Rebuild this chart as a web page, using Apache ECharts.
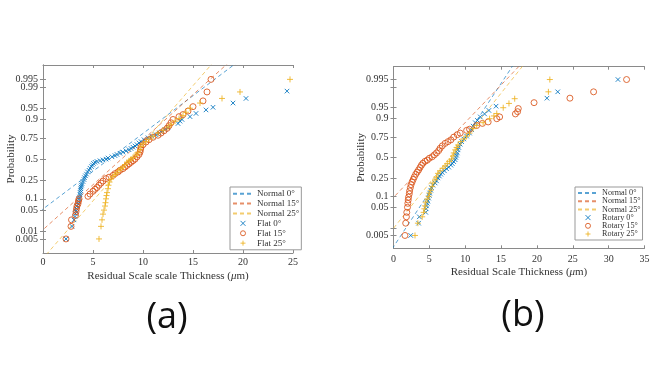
<!DOCTYPE html>
<html><head><meta charset="utf-8">
<script src="https://cdn.jsdelivr.net/npm/echarts@6/dist/echarts.min.js"></script>
<style>html,body{margin:0;padding:0;background:#fff}#c{width:660px;height:370px}</style>
</head><body><div id="c"></div>
<script>
// ---------- data (x = residual scale thickness in µm, p = probability) ----------
const probTicksA = [0.005, 0.01, 0.05, 0.1, 0.25, 0.5, 0.75, 0.9, 0.95, 0.99, 0.995];
const probLabelsA1 = [0.005, 0.05, 0.1, 0.25, 0.5, 0.75, 0.9, 0.95, 0.995];
const probLabelsA2 = [0.01, 0.99];
const probLabelsB = [0.005, 0.05, 0.1, 0.25, 0.5, 0.75, 0.9, 0.95, 0.995];
const probTicksB = [0.005, 0.01, 0.05, 0.1, 0.25, 0.5, 0.75, 0.9, 0.95, 0.99, 0.995];

const namesA = ['Normal 0°', 'Normal 15°', 'Normal 25°', 'Flat 0°', 'Flat 15°', 'Flat 25°'];
const namesB = ['Normal 0°', 'Normal 15°', 'Normal 25°', 'Rotary 0°', 'Rotary 15°', 'Rotary 25°'];

// fitted normal distributions (mean, std) for the dashed reference lines
const fitMuA = [6.6, 7.84, 8.62];
const fitSigmaA = [4.1, 3.44, 2.69];
const fitMuB = [8.2, 5.33, 7.86];
const fitSigmaB = [2.78, 4.04, 3.36];

const flat0 = [[2.3,0.005],[2.9,0.015],[3.1,0.025],[3.2,0.032],[3.25,0.04],[3.3,0.047],[3.35,0.055],[3.4,0.065],[3.5,0.075],[3.55,0.085],[3.6,0.1],[3.65,0.11],[3.7,0.125],[3.72,0.14],[3.75,0.155],[3.78,0.17],[3.8,0.185],[3.85,0.2],[3.9,0.215],[4.0,0.235],[4.1,0.255],[4.15,0.275],[4.25,0.295],[4.35,0.315],[4.45,0.34],[4.6,0.36],[4.7,0.385],[4.85,0.405],[4.95,0.425],[5.05,0.445],[5.2,0.46],[5.4,0.47],[5.7,0.48],[6.0,0.49],[6.3,0.5],[6.5,0.515],[6.9,0.53],[7.2,0.545],[7.4,0.56],[7.7,0.575],[8.0,0.59],[8.3,0.605],[8.6,0.62],[8.8,0.635],[9.0,0.65],[9.2,0.665],[9.4,0.68],[9.6,0.7],[9.8,0.715],[10.1,0.735],[10.5,0.755],[10.9,0.77],[11.3,0.785],[11.6,0.8],[11.9,0.815],[12.2,0.83],[12.5,0.845],[13.5,0.875],[13.7,0.89],[13.9,0.9],[14.7,0.915],[15.3,0.93],[16.3,0.944],[17.0,0.953],[19.0,0.965],[20.3,0.975],[24.4,0.986]];
const flat15 = [[2.3,0.005],[2.8,0.015],[2.85,0.025],[3.25,0.035],[3.3,0.045],[3.35,0.055],[3.4,0.065],[3.5,0.075],[3.55,0.088],[3.6,0.1],[4.5,0.115],[4.7,0.13],[5.0,0.15],[5.2,0.165],[5.4,0.18],[5.6,0.2],[5.8,0.22],[6.0,0.24],[6.3,0.265],[6.6,0.28],[7.0,0.3],[7.2,0.32],[7.5,0.34],[7.7,0.36],[8.0,0.38],[8.2,0.4],[8.4,0.42],[8.6,0.44],[8.8,0.46],[9.0,0.48],[9.2,0.5],[9.4,0.53],[9.6,0.56],[9.7,0.59],[9.75,0.62],[9.8,0.65],[10.0,0.68],[10.3,0.71],[10.6,0.735],[11.0,0.76],[11.5,0.78],[11.8,0.8],[12.1,0.82],[12.4,0.84],[12.6,0.86],[12.8,0.88],[13.0,0.9],[13.6,0.915],[14.0,0.925],[14.5,0.94],[15.0,0.955],[16.0,0.97],[16.4,0.985],[16.8,0.995]];
const flat25 = [[5.6,0.005],[5.8,0.015],[5.9,0.025],[6.0,0.038],[6.1,0.05],[6.2,0.065],[6.25,0.08],[6.3,0.1],[6.35,0.12],[6.4,0.14],[6.5,0.17],[6.55,0.2],[6.65,0.23],[6.8,0.26],[7.0,0.29],[7.2,0.31],[7.4,0.33],[7.6,0.36],[7.8,0.38],[8.0,0.4],[8.2,0.43],[8.4,0.46],[8.6,0.48],[8.8,0.5],[9.0,0.52],[9.3,0.55],[9.5,0.58],[9.7,0.62],[9.8,0.66],[10.0,0.69],[10.3,0.715],[10.6,0.74],[11.0,0.77],[11.5,0.8],[12.0,0.825],[12.5,0.85],[12.8,0.87],[13.2,0.89],[13.6,0.905],[14.0,0.92],[14.3,0.935],[14.7,0.95],[15.7,0.965],[17.9,0.975],[19.7,0.985],[24.7,0.995]];

const rotary0 = [[2.4,0.005],[3.5,0.015],[3.6,0.025],[4.5,0.035],[4.55,0.045],[4.6,0.055],[4.7,0.065],[4.8,0.075],[4.9,0.09],[5.0,0.105],[5.05,0.12],[5.2,0.14],[5.3,0.16],[5.5,0.18],[5.8,0.2],[6.0,0.22],[6.2,0.25],[6.4,0.27],[6.6,0.29],[6.8,0.31],[7.1,0.33],[7.4,0.355],[7.7,0.375],[8.0,0.4],[8.2,0.42],[8.4,0.445],[8.6,0.47],[8.7,0.5],[8.8,0.53],[8.9,0.56],[9.0,0.6],[9.1,0.63],[9.3,0.67],[9.5,0.7],[9.8,0.73],[10.2,0.76],[10.6,0.79],[10.9,0.82],[11.1,0.85],[11.4,0.875],[11.7,0.89],[12.1,0.91],[12.7,0.925],[13.3,0.94],[14.3,0.955],[21.4,0.975],[22.9,0.985],[31.3,0.995]];
const rotary15 = [[1.6,0.005],[1.7,0.015],[1.8,0.025],[1.85,0.035],[1.95,0.05],[2.0,0.065],[2.05,0.08],[2.1,0.095],[2.2,0.115],[2.25,0.135],[2.35,0.16],[2.45,0.185],[2.6,0.21],[2.75,0.235],[2.9,0.26],[3.1,0.29],[3.3,0.315],[3.5,0.34],[3.7,0.37],[3.9,0.4],[4.1,0.425],[4.4,0.45],[4.7,0.465],[5.0,0.49],[5.4,0.51],[5.7,0.535],[6.0,0.56],[6.3,0.59],[6.5,0.62],[6.8,0.65],[7.2,0.68],[7.6,0.7],[8.0,0.72],[8.4,0.75],[8.9,0.775],[9.3,0.79],[10.2,0.815],[10.6,0.825],[11.6,0.855],[12.4,0.87],[13.2,0.88],[14.4,0.9],[14.8,0.91],[17.0,0.925],[17.3,0.935],[17.4,0.947],[19.6,0.965],[24.6,0.975],[27.9,0.985],[32.5,0.995]];
const rotary25 = [[3.0,0.005],[3.4,0.015],[4.0,0.025],[4.2,0.035],[4.3,0.045],[4.4,0.055],[4.5,0.07],[4.7,0.085],[4.9,0.1],[5.0,0.12],[5.2,0.14],[5.4,0.17],[5.5,0.2],[5.8,0.23],[6.0,0.26],[6.2,0.3],[6.5,0.33],[6.9,0.36],[7.2,0.39],[7.5,0.42],[7.8,0.45],[8.1,0.48],[8.3,0.52],[8.4,0.56],[8.6,0.6],[8.8,0.63],[9.0,0.66],[9.4,0.7],[9.8,0.73],[10.2,0.76],[10.6,0.79],[11.1,0.83],[11.6,0.855],[12.5,0.875],[13.4,0.9],[14.0,0.915],[14.4,0.927],[15.3,0.95],[16.1,0.963],[16.9,0.974],[21.6,0.985],[21.8,0.995]];

// ---------- helpers ----------
function probit(p) { // inverse standard normal CDF (Acklam)
  const a=[-3.969683028665376e+01,2.209460984245205e+02,-2.759285104469687e+02,1.383577518672690e+02,-3.066479806614716e+01,2.506628277459239e+00];
  const b=[-5.447609879822406e+01,1.615858368580409e+02,-1.556989798598866e+02,6.680131188771972e+01,-1.328068155288572e+01];
  const c=[-7.784894002430293e-03,-3.223964580411365e-01,-2.400758277161838e+00,-2.549732539343734e+00,4.374664141464968e+00,2.938163982698783e+00];
  const d=[7.784695709041462e-03,3.224671290700398e-01,2.445134137142996e+00,3.754408661907416e+00];
  const pl=0.02425, ph=1-pl; let q,r;
  if (p<pl){q=Math.sqrt(-2*Math.log(p));return (((((c[0]*q+c[1])*q+c[2])*q+c[3])*q+c[4])*q+c[5])/((((d[0]*q+d[1])*q+d[2])*q+d[3])*q+1);}
  if (p<=ph){q=p-0.5;r=q*q;return (((((a[0]*r+a[1])*r+a[2])*r+a[3])*r+a[4])*r+a[5])*q/(((((b[0]*r+b[1])*r+b[2])*r+b[3])*r+b[4])*r+1);}
  q=Math.sqrt(-2*Math.log(1-p));return -(((((c[0]*q+c[1])*q+c[2])*q+c[3])*q+c[4])*q+c[5])/((((d[0]*q+d[1])*q+d[2])*q+d[3])*q+1);
}
const toPlot = arr => arr.map(d => [d[0], probit(d[1])]);
const fitLine = (mu, s) => [[mu - 3.6 * s, -3.6], [mu + 3.6 * s, 3.6]];
const labelFor = list => v => { for (const p of list) if (Math.abs(probit(p) - v) < 1e-6) return String(p); return ''; };

const COL = ['#0072BD', '#D95319', '#EDB120'];
const FONT = 'Liberation Serif';
const X_PATH = 'path://M0,0L10,10M10,0L0,10';
const PLUS_PATH = 'path://M5,0L5,10M0,5L10,5';
const AXC = '#8a8a8a';
const LBL = { fontFamily: FONT, fontSize: 10, color: '#333', margin: 5, hideOverlap: false, showMinLabel: true, showMaxLabel: true };

function yAxes(grid, ticks, labels, extraLabels, min, max, gap) {
  const axes = [{
    gridIndex: grid, type: 'value', min: min, max: max, position: 'left', offset: 0,
    axisLine: { show: true, lineStyle: { color: AXC, width: 1 } },
    axisTick: { show: true, inside: true, length: 3, customValues: ticks.map(probit), lineStyle: { color: AXC } },
    axisLabel: Object.assign({ customValues: labels.map(probit), formatter: labelFor(labels) }, LBL),
    splitLine: { show: false },
    name: 'Probability', nameLocation: 'middle', nameGap: gap, nameRotate: 90, nameMoveOverlap: false,
    nameTextStyle: { fontFamily: FONT, fontSize: 11, color: '#333' }
  }, {
    gridIndex: grid, type: 'value', min: min, max: max, position: 'right', offset: 0,
    axisLine: { show: true, lineStyle: { color: AXC, width: 1 } },
    axisTick: { show: true, inside: true, length: 3, customValues: ticks.map(probit), lineStyle: { color: AXC } },
    axisLabel: { show: false }, splitLine: { show: false }
  }];
  if (extraLabels.length) {
    axes.push({
      gridIndex: grid, type: 'value', min: min, max: max, position: 'left', offset: 0,
      axisLine: { show: false }, axisTick: { show: false }, splitLine: { show: false },
      axisLabel: Object.assign({ customValues: extraLabels.map(probit), formatter: labelFor(extraLabels) }, LBL)
    });
  }
  return axes;
}
function xAxes(grid, max, name, gap, margin) {
  return [{
    gridIndex: grid, type: 'value', min: 0, max: max, interval: 5, position: 'bottom',
    axisLine: { show: true, onZero: false, lineStyle: { color: AXC, width: 1 } },
    axisTick: { show: true, inside: true, length: 3, lineStyle: { color: AXC } },
    axisLabel: { fontFamily: FONT, fontSize: 10, color: '#333', margin: margin },
    splitLine: { show: false },
    name: name, nameLocation: 'middle', nameGap: gap, nameMoveOverlap: false,
    nameTextStyle: { fontFamily: FONT, fontSize: 11, color: '#333',
      rich: { i: { fontFamily: FONT, fontSize: 11, fontStyle: 'italic', color: '#333' } } }
  }, {
    gridIndex: grid, type: 'value', min: 0, max: max, interval: 5, position: 'top',
    axisLine: { show: true, onZero: false, lineStyle: { color: AXC, width: 1 } },
    axisTick: { show: true, inside: true, length: 3, lineStyle: { color: AXC } },
    axisLabel: { show: false }, splitLine: { show: false }
  }];
}

function panelSeries(xi, yi, names, mus, sigmas, sets) {
  const out = [];
  for (let k = 0; k < 3; k++) {
    out.push({
      name: names[k], type: 'line', xAxisIndex: xi, yAxisIndex: yi,
      data: fitLine(mus[k], sigmas[k]), symbol: 'none', clip: true, silent: true,
      lineStyle: { color: COL[k], width: 1, type: [4, 3], opacity: 0.65 },
      itemStyle: { color: COL[k] }, z: 2
    });
  }
  const syms = [X_PATH, 'circle', PLUS_PATH];
  const sizes = [4.5, 6, 6];
  for (let k = 0; k < 3; k++) {
    out.push({
      name: names[k + 3], type: 'scatter', xAxisIndex: xi, yAxisIndex: yi,
      data: toPlot(sets[k]), symbol: syms[k], symbolSize: sizes[k], clip: true,
      itemStyle: { color: 'rgba(0,0,0,0)', borderColor: COL[k], borderWidth: 1, opacity: 0.85 }, z: 3
    });
  }
  return out;
}

function legend(left, top, names, fs, gap, lh) {
  const syms = [X_PATH, 'circle', PLUS_PATH];
  const data = names.map((n, i) => i < 3
    ? { name: n, itemStyle: { opacity: 0 } }
    : { name: n, icon: syms[i - 3], itemStyle: { color: 'rgba(0,0,0,0)', borderColor: COL[i - 3], borderWidth: 1 } });
  return {
    left: left, top: top, orient: 'vertical', data: data,
    itemWidth: 20, itemHeight: 5, itemGap: gap, padding: [2, 2, 2, 2],
    backgroundColor: '#fff', borderColor: '#999', borderWidth: 1, borderRadius: 0,
    textStyle: { fontFamily: FONT, fontSize: fs, color: '#333', lineHeight: lh, padding: [0, 0, 0, -1] },
    selectedMode: false, z: 10
  };
}

const chart = echarts.init(document.getElementById('c'), null, { renderer: 'canvas' });
chart.setOption({
  animation: false,
  backgroundColor: '#fff',
  grid: [
    { left: 43, top: 65, width: 250, height: 188 },
    { left: 393.5, top: 66.7, width: 251, height: 181.6 }
  ],
  xAxis: [].concat(
    xAxes(0, 25, 'Residual Scale scale Thickness ({i|μ}m)', 18, 4),
    xAxes(1, 35, 'Residual Scale Thickness ({i|μ}m)', 18, 6)
  ),
  yAxis: [].concat(
    yAxes(0, probTicksA, probLabelsA1, probLabelsA2, -3.03, 3.04, 26),
    yAxes(1, probTicksB, probLabelsB, [], -3.0, 3.0, 27)
  ),
  legend: [legend(230, 187, namesA, 9, 0.6, 9.3), legend(575, 187, namesB, 8.2, 0.2, 7.8)],
  series: [].concat(
    panelSeries(0, 0, namesA, fitMuA, fitSigmaA, [flat0, flat15, flat25]),
    panelSeries(3, 3, namesB, fitMuB, fitSigmaB, [rotary0, rotary15, rotary25])
  ),
  graphic: [
    { type: 'text', x: 167, y: 318, style: { text: '(a)', font: '36px "Open Sans"', fill: '#111', align: 'center', verticalAlign: 'middle', textAlign: 'center', textVerticalAlign: 'middle' } },
    { type: 'text', x: 523, y: 316, style: { text: '(b)', font: '36px "Open Sans"', fill: '#111', align: 'center', verticalAlign: 'middle', textAlign: 'center', textVerticalAlign: 'middle' } }
  ]
});
</script></body></html>
